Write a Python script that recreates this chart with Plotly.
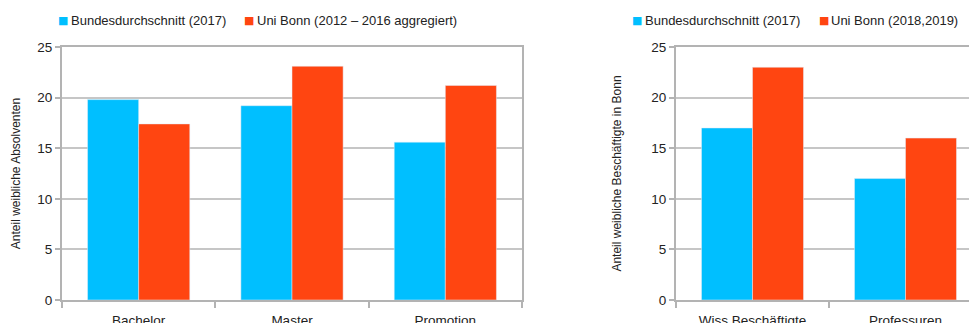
import plotly.graph_objects as go

# Data
cats_left = ["Bachelor", "Master", "Promotion"]
bund_left = [19.8, 19.2, 15.6]
bonn_left = [17.4, 23.1, 21.2]

cats_right = ["Wiss Beschäftigte", "Professuren"]
bund_right = [17.0, 12.0]
bonn_right = [23.0, 16.0]

name_bund = "Bundesdurchschnitt (2017)"
name_bonn_left = "Uni Bonn (2012 – 2016 aggregiert)"
name_bonn_right = "Uni Bonn (2018,2019)"
ytitle_left = "Anteil weibliche Absolventen"
ytitle_right = "Anteil weibliche Beschäftigte in Bonn"
yticks = [0, 5, 10, 15, 20, 25]

BLUE = "#00bfff"
RED = "#ff4511"
GRID = "#c6c6c6"
LINE = "#b3b3b3"
TXT = "#222222"
FONT = "Liberation Sans, Arial, sans-serif"

W, H = 969, 323

fig = go.Figure()
fig.add_trace(go.Bar(x=cats_left, y=bund_left, name=name_bund, marker_color=BLUE,
                     xaxis="x", yaxis="y", showlegend=False))
fig.add_trace(go.Bar(x=cats_left, y=bonn_left, name=name_bonn_left, marker_color=RED,
                     xaxis="x", yaxis="y", showlegend=False))
fig.add_trace(go.Bar(x=cats_right, y=bund_right, name=name_bund, marker_color=BLUE,
                     xaxis="x2", yaxis="y2", showlegend=False))
fig.add_trace(go.Bar(x=cats_right, y=bonn_right, name=name_bonn_right, marker_color=RED,
                     xaxis="x2", yaxis="y2", showlegend=False))

ydom = [(H - 300) / H, (H - 47) / H]

def xax(domain, rng):
    return dict(domain=domain, range=rng, type="category", showline=True, mirror=True,
                linecolor=LINE, linewidth=2, ticks="outside", tickson="boundaries",
                ticklen=6, tickcolor=LINE, tickwidth=2, showgrid=False,
                ticklabelstandoff=7,
                tickfont=dict(size=13.5, color=TXT, family=FONT), fixedrange=True)

def yax(anchor, title, standoff):
    return dict(domain=ydom, anchor=anchor, range=[0, 25], tickvals=yticks, showline=True,
                mirror=True, linecolor=LINE, linewidth=2, ticks="outside", ticklen=5,
                tickcolor=LINE, tickwidth=2, showgrid=True, gridcolor=GRID, gridwidth=2,
                zeroline=False, tickfont=dict(size=13.5, color=TXT, family=FONT),
                title=dict(text=title, font=dict(size=12, color=TXT, family=FONT),
                           standoff=standoff))

fig.update_layout(
    width=W, height=H,
    margin=dict(l=0, r=0, t=0, b=0, autoexpand=False),
    paper_bgcolor="white", plot_bgcolor="white",
    barmode="group", bargap=1/3, bargroupgap=0,
    font=dict(family=FONT, color=TXT),
    xaxis=dict(**xax([62 / W, 522 / W], [-0.5, 2.5]), anchor="y"),
    yaxis=yax("x", ytitle_left, 14),
    xaxis2=dict(**xax([676 / W, 1.0], [-0.5, -0.5 + 293 / 153]), anchor="y2"),
    yaxis2=yax("x2", ytitle_right, 27),
)

# Legends drawn as text annotations
ly = (H - 20.5) / H
items = [
    (56, 69, BLUE, name_bund),
    (242, 255, RED, name_bonn_left),
    (630, 643, BLUE, name_bund),
    (817, 829, RED, name_bonn_right),
]
for sx, tx, col, label in items:
    fig.add_annotation(x=sx / W, y=ly, xref="paper", yref="paper", xanchor="left",
                       yanchor="middle", text="■", showarrow=False,
                       font=dict(size=11, color=col, family="DejaVu Sans"))
    fig.add_annotation(x=tx / W, y=ly, xref="paper", yref="paper", xanchor="left",
                       yanchor="middle", text=label, showarrow=False,
                       font=dict(size=13, color=TXT, family=FONT))

fig.write_html("out.html", config={"displayModeBar": False},
               post_script="document.body.style.margin='0';document.body.style.overflow='hidden';")
